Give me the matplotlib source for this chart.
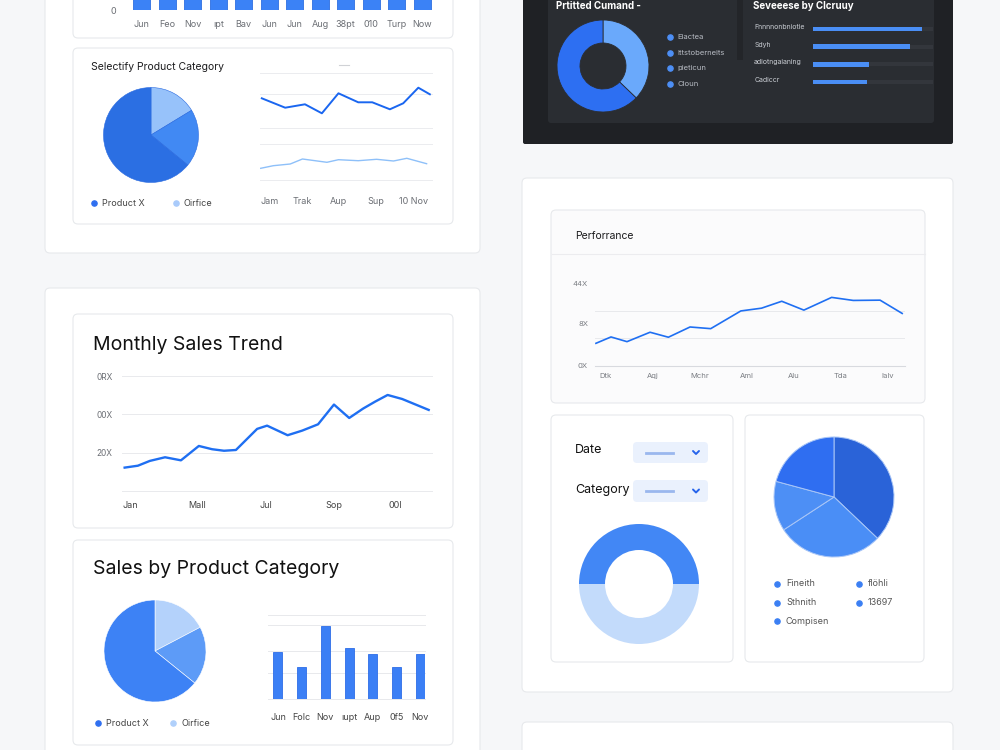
import matplotlib
matplotlib.use("Agg")
import matplotlib.pyplot as plt
from matplotlib.patches import FancyBboxPatch, Rectangle

plt.rcParams["font.family"] = ["Inter", "DejaVu Sans"]

W, H = 1000, 750
PAGE_BG = "#f6f7f9"
CARD_EDGE = "#e7e9ec"
BLUE = "#1f6ff2"
TEXT = "#1c1c1e"
MUTED = "#6b6e74"

# --- data ---------------------------------------------------------------
top_bar_labels = ["Jun", "Feo", "Nov", "ıpt", "Bav", "Jun", "Jun", "Aug", "38pt", "010", "Turp", "Now"]
top_bar_values = [62, 55, 70, 48, 66, 58, 61, 74, 52, 57, 63, 69]

sel_pie_values = [16.3, 19.6, 64.1]
sel_pie_colors = ["#97c2fa", "#4189f3", "#2b6fe3"]
sel_legend = ["Product X", "Oirfice"]

sel_dark_x = [-0.23, 0.42, 0.97, 1.44, 1.90, 2.45, 2.84, 3.33, 3.70, 4.12, 4.44]
sel_dark_y = [81.7, 72.3, 75.7, 66.7, 86.7, 77.7, 77.7, 70.7, 76.7, 92.3, 85.7]
sel_light_x = [-0.26, 0.09, 0.56, 0.90, 1.58, 1.90, 2.45, 2.96, 3.43, 3.80, 4.35]
sel_light_y = [11.7, 14.3, 16.0, 21.0, 17.7, 20.3, 19.3, 20.7, 19.0, 21.7, 16.3]
sel_grid = [0, 35.7, 51.7, 85.7, 106.7]
sel_tick_pos = [0, 0.9, 1.9, 2.95, 4.0]
sel_tick_labels = ["Jam", "Trak", "Aup", "Sup", "10 Nov"]

trend_x = [-0.08, 0.12, 0.30, 0.53, 0.77, 1.04, 1.24, 1.42, 1.60, 1.92, 2.07,
           2.38, 2.60, 2.84, 3.08, 3.31, 3.52, 3.70, 3.89, 4.11, 4.51]
trend_y = [12.2, 13.2, 15.7, 17.6, 16.0, 23.5, 21.8, 21.0, 21.4, 32.4, 34.1,
           29.1, 31.5, 34.8, 45.1, 38.1, 43.0, 46.6, 50.1, 48.0, 42.3]
trend_tick_pos = [0, 1.01, 2.05, 3.08, 4.0]
trend_tick_labels = ["Jan", "Mall", "Jul", "Sop", "00I"]
trend_yticks = [0, 20, 40, 60]
trend_ylabels = ["", "20X", "00X", "0RX"]

cat_pie_values = [17.3, 18.5, 64.2]
cat_pie_colors = ["#b4d2fb", "#5d9bf7", "#3d82f5"]
cat_bar_labels = ["Jun", "Folc", "Nov", "ıupt", "Aup", "0f5", "Nov"]
cat_bar_values = [47, 32, 73, 51, 45, 32, 45]
cat_grid = [0, 26, 48, 74, 84]

dark_donut_values = [37.2, 62.8]
dark_donut_colors = ["#6aa9fb", "#2d6ff2"]
dark_legend = ["Eiactea", "Ittstoberneits", "pieticun", "Cloun"]
dark_bar_labels = ["Fnnnnonbniotie", "Sdyh", "adiotngaianing", "Cadiccr"]
dark_bar_values = [109, 97, 56, 54]
dark_bar_max = 120

perf_x = [-0.21, 0.11, 0.45, 0.94, 1.33, 1.79, 2.23, 2.87, 3.31, 3.74, 4.21, 4.80, 5.26, 5.83, 6.30]
perf_y = [8.2, 10.5, 8.8, 12.2, 10.4, 14.1, 13.5, 19.9, 20.9, 23.4, 20.2, 24.8, 23.7, 23.8, 19.0]
perf_tick_labels = ["Dtk", "Aqj", "Mchr", "Aml", "Alu", "Tda", "Ialv"]
perf_yticks = [0, 15.2, 30]
perf_ylabels = ["0X", "8X", "44X"]
perf_grid = [10, 20, 30]

half_donut_values = [50, 50]
half_donut_colors = ["#4287f5", "#c3dbfb"]

right_pie_values = [37.1, 28.7, 13.4, 20.8]
right_pie_colors = ["#2a63d8", "#4a8ef6", "#4d8ff5", "#2f6ef1"]
right_legend_left = ["Fineith", "Sthnith", "Compisen"]
right_legend_right = ["flöhli", "13697"]


fig = plt.figure(figsize=(10, 7.5), dpi=100)
fig.patch.set_facecolor(PAGE_BG)

# background canvas in pixel units (y down)
bg = fig.add_axes([0, 0, 1, 1])
bg.set_xlim(0, W)
bg.set_ylim(H, 0)
bg.axis("off")


def px_axes(x0, y0, x1, y1):
    ax = fig.add_axes([x0 / W, 1 - y1 / H, (x1 - x0) / W, (y1 - y0) / H])
    ax.set_facecolor("none")
    return ax


def card(x0, y0, x1, y1, fc="white", ec=CARD_EDGE, r=5):
    bg.add_patch(FancyBboxPatch((x0, y0), x1 - x0, y1 - y0,
                                boxstyle=f"round,pad=0,rounding_size={r}",
                                facecolor=fc, edgecolor=ec, linewidth=0.8))


def clean(ax):
    for s in ax.spines.values():
        s.set_visible(False)
    ax.tick_params(length=0, labelsize=6.5, colors=MUTED)


def unclip_grid(ax):
    for line in ax.get_ygridlines():
        line.set_clip_on(False)


def pie_axes(cx, cy, r, pad=1.04):
    s = r * pad
    ax = px_axes(cx - s, cy - s, cx + s, cy + s)
    return ax, pad


def dot(x, y, color):
    bg.scatter([x], [y], s=14, color=color, zorder=3)


# --- cards --------------------------------------------------------------
card(45, -10, 480, 253)
card(73, -10, 453, 38)
card(73, 48, 453, 224)
card(45, 288, 480, 770)
card(73, 314, 453, 528)
card(73, 540, 453, 745)

card(523, -10, 953, 144, fc="#1f2125", ec="none", r=2)
card(548, -10, 934, 123, fc="#2a2d32", ec="none", r=3)
bg.add_patch(Rectangle((737, -5), 6, 65, facecolor="#232529", edgecolor="none"))

card(522, 178, 953, 692)
card(551, 210, 925, 403, fc="#fbfbfc")
card(551, 415, 733, 662)
card(745, 415, 924, 662)
card(522, 722, 953, 770)

# --- top bar strip ------------------------------------------------------
ax = px_axes(129, -60, 435, 10)
ax.bar(range(len(top_bar_values)), top_bar_values, width=0.65,
       color="#3b82f6", edgecolor="#2f6fe0", linewidth=0.6)
ax.set_xlim(-0.5, len(top_bar_values) - 0.5)
ax.set_ylim(0, 70)
ax.set_xticks(range(len(top_bar_labels)))
ax.set_xticklabels(top_bar_labels)
ax.set_yticks([0])
ax.set_yticklabels(["0"])
clean(ax)
ax.tick_params(axis="x", pad=7)
ax.tick_params(axis="y", pad=9)

# --- Selectify Product Category ----------------------------------------
bg.text(91, 67, "Selectify Product Category", fontsize=7.5, color=TEXT, va="center")
ax, p = pie_axes(151, 135, 47.5)
ax.pie(sel_pie_values, colors=sel_pie_colors, startangle=90, counterclock=False,
       wedgeprops=dict(edgecolor="#2a6ae0", linewidth=0.4))
ax.set_xlim(-p, p)
ax.set_ylim(-p, p)
dot(94, 203, "#2f6ff0")
bg.text(102, 203, sel_legend[0], fontsize=6.5, color="#444", va="center")
dot(176, 203, "#a9cbfb")
bg.text(184, 203, sel_legend[1], fontsize=6.5, color="#444", va="center")

ax = px_axes(260, 73.3, 432, 180)
ax.plot(sel_dark_x, sel_dark_y, color="#1a66f0", linewidth=1.4)
ax.plot(sel_light_x, sel_light_y, color="#8ec0f9", linewidth=1.0)
ax.set_xlim(-0.28, 4.5)
ax.set_ylim(0, 106.7)
ax.set_yticks(sel_grid)
ax.set_yticklabels([])
ax.grid(axis="y", color="#ebecef", linewidth=0.7)
unclip_grid(ax)
ax.set_xticks(sel_tick_pos)
ax.set_xticklabels(sel_tick_labels)
clean(ax)
ax.tick_params(axis="x", pad=12)
bg.plot([339, 349], [65, 65], color="#d0d2d6", linewidth=0.8)

# --- Monthly Sales Trend -----------------------------------------------
bg.text(93, 345, "Monthly Sales Trend", fontsize=14, color="#111", va="center")
ax = px_axes(122, 376, 432, 491)
ax.plot(trend_x, trend_y, color=BLUE, linewidth=1.7, solid_joinstyle="round")
ax.set_xlim(-0.12, 4.56)
ax.set_ylim(0, 60)
ax.set_yticks(trend_yticks)
ax.set_yticklabels(trend_ylabels)
ax.grid(axis="y", color="#e9eaed", linewidth=0.7)
unclip_grid(ax)
ax.set_xticks(trend_tick_pos)
ax.set_xticklabels(trend_tick_labels)
clean(ax)
ax.tick_params(axis="y", pad=7, labelsize=6)
ax.tick_params(axis="x", pad=7, colors="#444")

# --- Sales by Product Category -----------------------------------------
bg.text(93, 569, "Sales by Product Category", fontsize=14, color="#111", va="center")
ax, p = pie_axes(155, 651, 51)
ax.pie(cat_pie_values, colors=cat_pie_colors, startangle=90, counterclock=False,
       wedgeprops=dict(edgecolor="white", linewidth=0.4))
ax.set_xlim(-p, p)
ax.set_ylim(-p, p)
dot(98, 723, "#2f6ff0")
bg.text(106, 723, sel_legend[0], fontsize=6.5, color="#444", va="center")
dot(173, 723, "#b0d0fb")
bg.text(181, 723, sel_legend[1], fontsize=6.5, color="#444", va="center")

ax = px_axes(268, 615, 425, 699)
ax.bar(range(len(cat_bar_values)), cat_bar_values, width=0.38,
       color="#3b7ff5", edgecolor="#2d6de8", linewidth=0.6, zorder=3)
ax.set_xlim(-0.42, 6.2)
ax.set_ylim(0, 84)
ax.set_yticks(cat_grid)
ax.set_yticklabels([])
ax.grid(axis="y", color="#e8e9ec", linewidth=0.7)
unclip_grid(ax)
ax.set_xticks(range(len(cat_bar_labels)))
ax.set_xticklabels(cat_bar_labels)
clean(ax)
ax.tick_params(axis="x", pad=10, colors="#444")

# --- dark panel ---------------------------------------------------------
bg.text(556, 9, "Prtitted Cumand -", fontsize=7, color="white", weight="bold", va="baseline")
bg.text(753, 9, "Seveeese by Clcruuy", fontsize=7, color="white", weight="bold", va="baseline")
ax, p = pie_axes(603, 66, 46)
ax.pie(dark_donut_values, colors=dark_donut_colors, startangle=90, counterclock=False,
       wedgeprops=dict(width=0.5, edgecolor="#2a2d32", linewidth=0.6))
ax.set_xlim(-p, p)
ax.set_ylim(-p, p)
for i, name in enumerate(dark_legend):
    y = 37 + i * 15.7
    dot(670, y, "#4d8ff6")
    bg.text(677, y, name, fontsize=5.5, color="#b8bcc4", va="center")

ax = px_axes(813, 20.15, 933, 90.85)
rows = range(len(dark_bar_values))
ax.barh(rows, [dark_bar_max] * len(dark_bar_values), height=0.22, color="#33363c")
ax.barh(rows, dark_bar_values, height=0.26, color="#4a8ef5")
ax.set_xlim(0, dark_bar_max)
ax.set_ylim(3.5, -0.5)
ax.set_xticks([])
ax.set_yticks([])
clean(ax)
for i, name in enumerate(dark_bar_labels):
    ax.text(-0.49, i - 0.12, name, transform=ax.get_yaxis_transform(),
            fontsize=5, color="#c8ccd2", va="center")

# --- Performance --------------------------------------------------------
bg.text(575, 236, "Perforrance", fontsize=7.5, color=TEXT, va="center")
bg.plot([552, 925], [254, 254], color="#ececef", linewidth=0.8)
ax = px_axes(595, 283, 905, 366)
ax.plot(perf_x, perf_y, color=BLUE, linewidth=1.2)
ax.set_xlim(-0.23, 6.36)
ax.set_ylim(0, 30)
ax.set_yticks(perf_yticks)
ax.set_yticklabels(perf_ylabels)
ax.set_yticks(perf_grid, minor=True)
ax.grid(axis="y", which="minor", color="#e8e9ec", linewidth=0.7)
unclip_grid(ax)
ax.set_xticks(range(len(perf_tick_labels)))
ax.set_xticklabels(perf_tick_labels)
clean(ax)
ax.tick_params(which="minor", length=0)
ax.spines["bottom"].set_visible(True)
ax.spines["bottom"].set_color("#d8dadf")
ax.tick_params(axis="both", pad=5, labelsize=5.5, colors="#7a7d83")

# --- filters + half donut -----------------------------------------------
bg.text(575, 450, "Date", fontsize=9, color="#111", va="center")
bg.text(575, 490, "Category", fontsize=9, color="#111", va="center")
for y0, y1 in [(442, 463), (480, 502)]:
    card(633, y0, 708, y1, fc="#eaf1fd", ec="none", r=4)
    ym = (y0 + y1) / 2
    bg.plot([646, 673], [ym, ym], color="#9ab7ee", linewidth=2)
    bg.plot([693, 696, 699], [ym - 1.5, ym + 1.5, ym - 1.5], color="#2563eb",
            linewidth=1.4, solid_capstyle="round")

ax, p = pie_axes(639, 584, 60)
ax.pie(half_donut_values, colors=half_donut_colors, startangle=0,
       wedgeprops=dict(width=26 / 60, edgecolor="none"))
ax.set_xlim(-p, p)
ax.set_ylim(-p, p)

# --- right pie ----------------------------------------------------------
ax, p = pie_axes(834, 497, 60)
ax.pie(right_pie_values, colors=right_pie_colors, startangle=90, counterclock=False,
       wedgeprops=dict(edgecolor="#a9c6f7", linewidth=0.7))
ax.set_xlim(-p, p)
ax.set_ylim(-p, p)
for i, name in enumerate(right_legend_left):
    y = 584 + i * 18.5
    dot(777, y, "#3b7ff3")
    bg.text(786, y, name, fontsize=6.5, color="#555", va="center")
for i, name in enumerate(right_legend_right):
    y = 584 + i * 18.5
    dot(859, y, "#3b7ff3")
    bg.text(868, y, name, fontsize=6.5, color="#555", va="center")

fig.savefig("out.png", dpi=100, facecolor=PAGE_BG)
plt.close(fig)
